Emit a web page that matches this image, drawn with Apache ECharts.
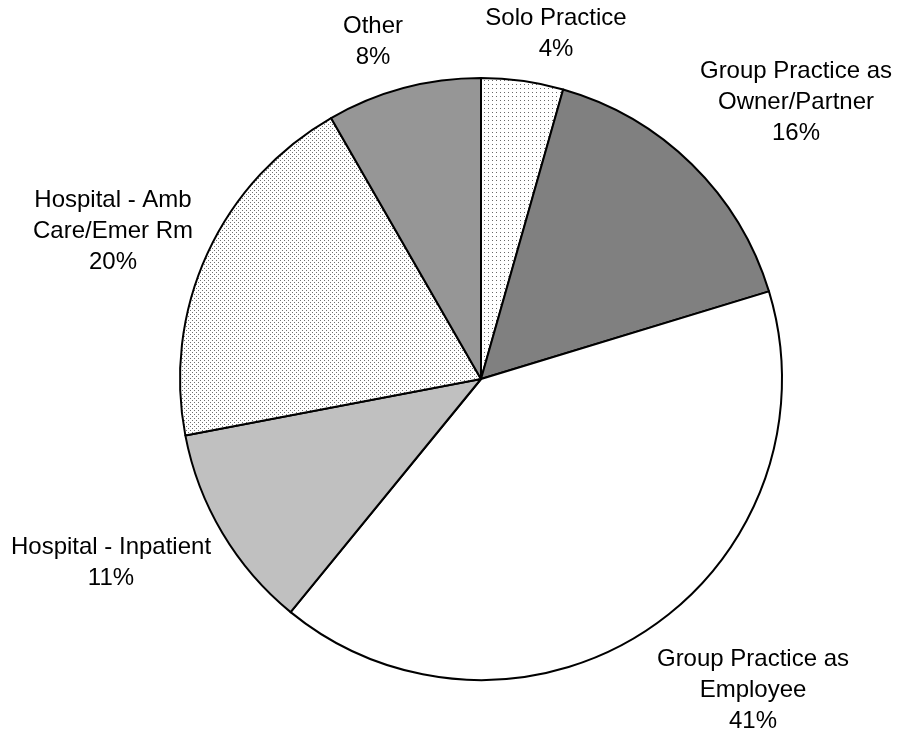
<!DOCTYPE html>
<html>
<head>
<meta charset="utf-8">
<title>Practice Setting</title>
<script src="https://cdn.jsdelivr.net/npm/echarts@6/dist/echarts.min.js"></script>
<style>
  html, body { margin: 0; padding: 0; background: #ffffff; }
  #chart { width: 897px; height: 735px; }
</style>
</head>
<body>
<div id="chart"></div>
<script>
// Practice settings, in drawing order (clockwise from 12 o'clock)
const categories = [
  'Solo Practice',
  'Group Practice as\nOwner/Partner',
  'Group Practice as\nEmployee',
  'Hospital - Inpatient',
  'Hospital - Amb\nCare/Emer Rm',
  'Other'
];
const shares = [4.4, 15.9, 40.6, 11.1, 19.7, 8.3];

// Small repeating dot tiles used as hatch fills
function dotTile(size, dots, color) {
  const c = document.createElement('canvas');
  c.width = size; c.height = size;
  const g = c.getContext('2d');
  g.fillStyle = '#ffffff';
  g.fillRect(0, 0, size, size);
  g.fillStyle = color;
  dots.forEach(d => g.fillRect(d[0], d[1], 1, 1));
  return { image: c, repeat: 'repeat' };
}

const sparseDots = dotTile(8, [[0, 0], [4, 4], [4, 0], [0, 4]], '#6a6a6a');
const denseDots = dotTile(4, [[0, 0], [2, 2]], '#707070');

const fills = [sparseDots, '#808080', '#ffffff', '#c0c0c0', denseDots, '#969696'];

// Label anchor points (centre of each text block)
const labelSpots = [
  [556, 34],
  [796, 102],
  [753, 690],
  [111, 563],
  [113, 231],
  [373, 42]
];

const chart = echarts.init(document.getElementById('chart'), null, { renderer: 'canvas' });

chart.setOption({
  animation: false,
  backgroundColor: '#ffffff',
  series: [{
    type: 'pie',
    center: [481, 379],
    radius: 301,
    startAngle: 90,
    clockwise: true,
    percentPrecision: 0,
    avoidLabelOverlap: false,
    silent: true,
    data: categories.map((name, i) => ({
      name: name,
      value: shares[i],
      itemStyle: { color: fills[i] }
    })),
    itemStyle: {
      borderColor: '#000000',
      borderWidth: 2
    },
    label: {
      show: true,
      position: 'outside',
      formatter: '{b}\n{d}%',
      color: '#000000',
      fontFamily: 'Liberation Sans, Arial, sans-serif',
      fontSize: 24,
      lineHeight: 31,
      align: 'center'
    },
    labelLine: { show: false },
    labelLayout: function (params) {
      const p = labelSpots[params.dataIndex];
      return {
        x: p[0],
        y: p[1],
        align: 'center',
        verticalAlign: 'middle',
        hideOverlap: false,
        moveOverlap: null
      };
    },
    emphasis: { disabled: true }
  }]
});
</script>
</body>
</html>
